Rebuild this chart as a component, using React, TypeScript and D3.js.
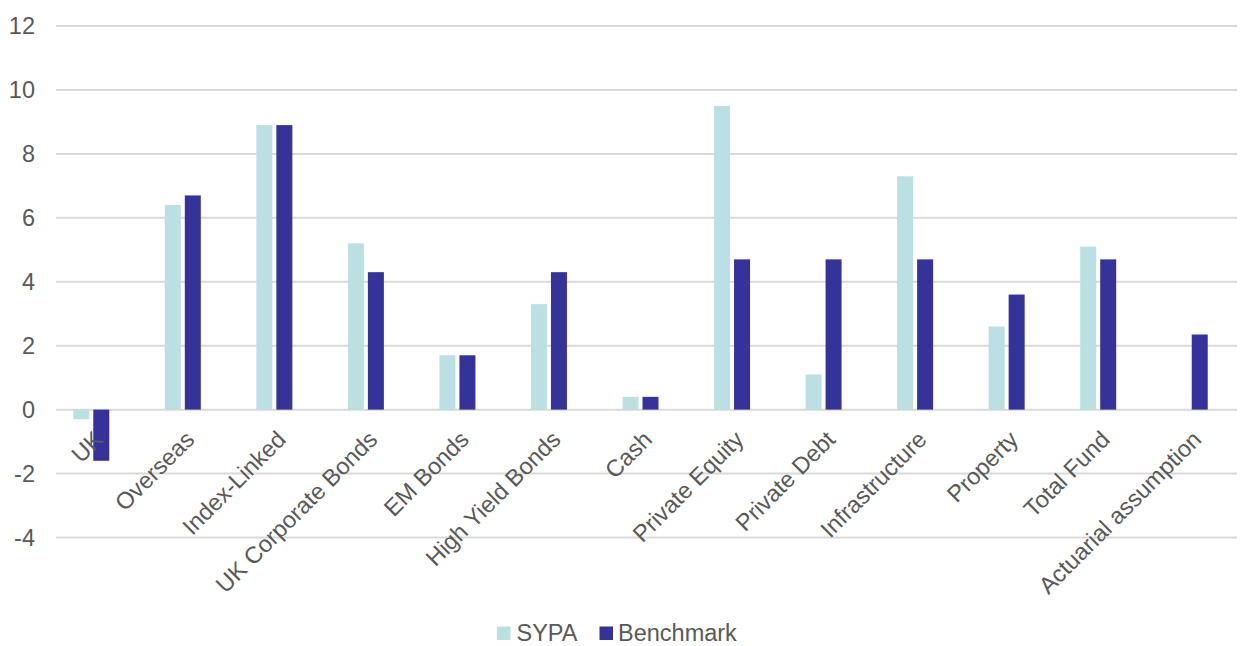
import React from "react";
import * as d3 from "d3";

const categories = [
  "UK", "Overseas", "Index-Linked", "UK Corporate Bonds", "EM Bonds", "High Yield Bonds",
  "Cash", "Private Equity", "Private Debt", "Infrastructure", "Property", "Total Fund", "Actuarial assumption",
];
const sypa: (number | null)[] = [-0.3, 6.4, 8.9, 5.2, 1.7, 3.3, 0.4, 9.5, 1.1, 7.3, 2.6, 5.1, null];
const benchmark: (number | null)[] = [-1.6, 6.7, 8.9, 4.3, 1.7, 4.3, 0.4, 4.7, 4.7, 4.7, 3.6, 4.7, 2.35];
const yTicks = [-4, -2, 0, 2, 4, 6, 8, 10, 12];
const seriesNames = ["SYPA", "Benchmark"];
const colors = ["#BBE0E3", "#353399"];

const W = 1241, H = 646;
const FONT = "'Liberation Sans', Arial, sans-serif";
const TEXT = "#595959";
const FS = 23.5;

export default function App() {
  const x = d3.scaleBand<string>().domain(categories).range([45.5, 1235.5]).padding(0);
  const x1 = d3.scaleBand<string>().domain(seriesNames).range([-18, 18]).paddingInner(0.2);
  const y = d3.scaleLinear().domain([-4, 12]).range([537.5, 26]);
  const data = [sypa, benchmark];
  const bw = x.bandwidth();

  return (
    <div style={{ position: "absolute", left: 0, top: 0 }}>
      <svg width={W} height={H} style={{ display: "block", background: "#fff" }}>
        {yTicks.map((t) => (
          <g key={t}>
            <line x1={56} x2={1237} y1={y(t)} y2={y(t)} stroke="#d9d9d9" strokeWidth={2} />
            <text x={35} y={y(t)} dy="0.36em" textAnchor="end" fontFamily={FONT} fontSize={FS} fill={TEXT}>
              {t}
            </text>
          </g>
        ))}
        {data.map((series, si) =>
          series.map((v, i) => {
            if (v === null) return null;
            const cx = (x(categories[i]) as number) + bw / 2;
            const bx = cx + (x1(seriesNames[si]) as number);
            const y0 = y(0), yv = y(v);
            return (
              <rect key={`${si}-${i}`} x={bx} width={x1.bandwidth()} y={Math.min(y0, yv)} height={Math.abs(yv - y0)} fill={colors[si]} />
            );
          })
        )}
        {categories.map((c) => {
          const cx = (x(c) as number) + bw / 2;
          const ax = cx + 13, ay = 441;
          return (
            <text key={c} x={ax} y={ay} textAnchor="end" transform={`rotate(-45 ${ax} ${ay})`} fontFamily={FONT} fontSize={FS} fill={TEXT}>
              {c}
            </text>
          );
        })}
        <g>
          <rect x={497} y={626.5} width={13.5} height={13.5} fill={colors[0]} />
          <text x={516.5} y={640.5} fontFamily={FONT} fontSize={FS} fill={TEXT}>{seriesNames[0]}</text>
          <rect x={599.5} y={626.5} width={13.5} height={13.5} fill={colors[1]} />
          <text x={618} y={640.5} fontFamily={FONT} fontSize={FS} fill={TEXT}>{seriesNames[1]}</text>
        </g>
      </svg>
    </div>
  );
}
